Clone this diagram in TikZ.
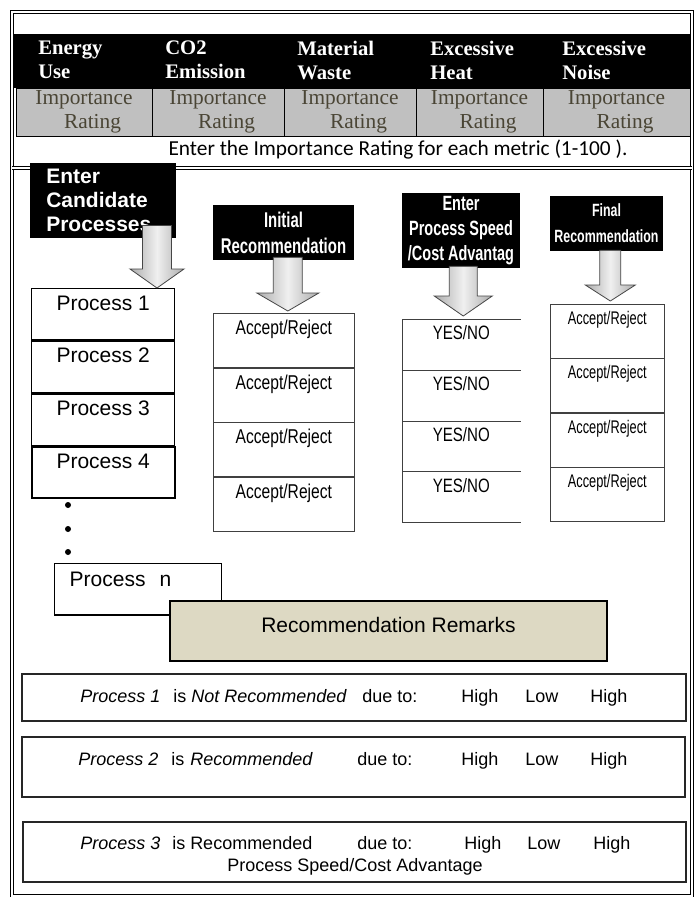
\documentclass[tikz,border=0pt]{standalone}
\usepackage{fontspec}
\setmainfont{Liberation Serif}
\newfontfamily\arialf{Liberation Sans}
\newfontfamily\arialn{Liberation Sans}[FakeStretch=0.78]
\newfontfamily\arialc{Liberation Sans}[FakeStretch=0.7]
\newfontfamily\calibf{Carlito}
\usepackage{tikz}
\usetikzlibrary{
  positioning,
  calc
}
\definecolor{ratinggray}{HTML}{C0C0C0}
\definecolor{ratingtext}{HTML}{4A4535}
\definecolor{remarktan}{HTML}{DDD9C3}

% block arrow: top point, tip point, shaft half width, head half width, head length (px)
\newcommand{\blockarrow}[5]{%
  \path[blockarr] let \p1=(#1), \p2=(#2) in
    (\x2-#3*0.75pt,\y1) -- (\x2+#3*0.75pt,\y1) -- (\x2+#3*0.75pt,\y2+#5*0.75pt)
    -- (\x2+#4*0.75pt,\y2+#5*0.75pt) -- (\x2,\y2) -- (\x2-#4*0.75pt,\y2+#5*0.75pt)
    -- (\x2-#3*0.75pt,\y2+#5*0.75pt) -- cycle;}

\begin{document}
\begin{tikzpicture}[
  x=0.75pt, y=-0.75pt,
  px/.style 2 args={minimum width=(#1)*0.75pt, minimum height=(#2)*0.75pt},
  frame/.style={double, double distance=1.6pt, line width=0.9pt},
  hdrtxt/.style={
    anchor=west, align=left, text=white, inner sep=0pt,
    font=\bfseries\fontsize{15.5}{18}\selectfont,
  },
  ratecell/.style={
    draw=black, line width=0.5pt, fill=ratinggray, text=ratingtext,
    align=center, inner sep=0pt, font=\fontsize{16}{18}\selectfont,
  },
  darkbox/.style={fill=black, text=white, inner sep=0pt, align=center},
  procbox/.style={
    draw, line width=1.1pt, inner sep=0pt, minimum width=107.25pt,
    text height=16.1pt, text depth=22.3pt, font=\arialf\fontsize{15.75}{18}\selectfont,
  },
  accbox/.style={
    draw=black!75, line width=0.5pt, inner sep=0pt, minimum width=105.75pt,
    text height=15.9pt, text depth=24.6pt, font=\arialn\fontsize{15}{18}\selectfont,
  },
  ynbox/.style={
    inner sep=0pt, minimum width=88.5pt,
    text height=15.1pt, text depth=22.7pt, font=\arialn\fontsize{14.5}{18}\selectfont,
  },
  ynline/.style={draw=black!75, line width=0.5pt},
  finbox/.style={
    draw=black!75, line width=0.5pt, inner sep=0pt, minimum width=85.5pt,
    text height=14.9pt, text depth=25.4pt, font=\arialc\fontsize{13.7}{15}\selectfont,
  },
  dotmark/.style={circle, fill=black, inner sep=0pt, minimum size=4.5pt},
  rembox/.style={draw=black!85, line width=1.6pt},
  remtxt/.style={anchor=base west, inner sep=0pt, font=\arialf\fontsize{13.5}{16}\selectfont},
  blockarr/.style={
    left color=gray!65, right color=gray!65, middle color=gray!12,
    draw=gray!55!black, line width=0.6pt,
  },
]
\fill[white] (0,0) rectangle (696,897);
\useasboundingbox (0,0) rectangle (696,897);

% metric table
\node[fill=black, px={676}{54}, inner sep=0pt] (hdr) at (352,61) {};
\foreach \x/\t [count=\i] in {38/{Energy\\Use}, 165/{CO2\\Emission}, 297/{Material\\Waste},
    430/{Excessive\\Heat}, 562/{Excessive\\Noise}}
  \node[hdrtxt] (h\i) at (\x,60) {\t};
\foreach \l/\r [count=\i] in {16/152, 152/284, 284/416, 416/543, 543/690}
  \node[ratecell, px={\r-\l}{48}] (r\i) at ({(\l+\r)/2},112) {Importance\\\hspace*{0.8em}Rating};
\node[font=\calibf\fontsize{16}{18}\selectfont, inner sep=0pt] (note) at (398,150)
  {Enter the Importance Rating for each metric (1-100 ).};

\draw[frame] (12,12) rectangle (692,896);
\draw[frame] (12,168) -- (692,168);

% candidate processes
\node[darkbox, anchor=north west, align=left, text width=85.5pt, inner xsep=12pt,
  minimum height=56.25pt, font=\arialf\bfseries\fontsize{15.75}{18}\selectfont]
  (cand) at (30,163) {Enter\\Candidate\\Processes};
\node[procbox, anchor=north west] (p1) at (31,288) {Process 1};
\node[procbox, below=0pt of p1] (p2) {Process 2};
\node[procbox, below=0pt of p2] (p3) {Process 3};
\node[procbox, below=0pt of p3, line width=1.7pt] (p4) {Process 4};
\foreach \y [count=\i] in {505,529,552}
  \node[dotmark] (dot\i) at (68,\y) {};
\node[procbox, anchor=north west, align=left, text width=102.75pt, inner xsep=11.25pt,
  text height=16.9pt, text depth=21.4pt] (pn) at (54,563) {Process\ \ n};

% initial recommendation
\node[darkbox, px={141}{55}, font=\arialc\bfseries\fontsize{16}{19.5}\selectfont]
  (init) at (283.5,232.5) {Initial\\Recommendation};
\node[accbox, anchor=north west, px={141}{54}] (a1) at (213,313) {Accept/Reject};
\node[accbox, below=0pt of a1, px={141}{54}] (a2) {Accept/Reject};
\node[accbox, below=0pt of a2, px={141}{54}] (a3) {Accept/Reject};
\node[accbox, below=0pt of a3, px={141}{54}] (a4) {Accept/Reject};

% speed / cost advantage
\node[darkbox, px={118}{75}, font=\arialc\bfseries\fontsize{15.5}{18.75}\selectfont]
  (speed) at (461,230.5) {Enter\\Process Speed\\/Cost Advantag};
\node[ynbox, anchor=north west] (y1) at (402,319) {YES/NO};
\node[ynbox, below=0pt of y1] (y2) {YES/NO};
\node[ynbox, below=0pt of y2] (y3) {YES/NO};
\node[ynbox, below=0pt of y3] (y4) {YES/NO};
\draw[ynline] (y1.north east) -- (y1.north west) -- (y4.south west) -- (y4.south east);
\foreach \i in {1,2,3}
  \draw[ynline] (y\i.south west) -- (y\i.south east);

% final recommendation
\node[darkbox, px={113}{55}, font=\arialc\bfseries\fontsize{13.3}{19.5}\selectfont]
  (fin) at (606.5,223.5) {Final\\Recommendation};
\node[finbox, anchor=north west, px={114}{53.75}] (f1) at (550,304) {Accept/Reject};
\node[finbox, below=0pt of f1, px={114}{53.75}] (f2) {Accept/Reject};
\node[finbox, below=0pt of f2, px={114}{53.75}] (f3) {Accept/Reject};
\node[finbox, below=0pt of f3, px={114}{53.75}] (f4) {Accept/Reject};

% arrows
\blockarrow{$(cand.south)+(0,-13)$}{$(p1.north west)+(126,0)$}{14.5}{27}{19}
\blockarrow{$(init.south)+(0,-3)$}{$(a1.north)+(4,-2)$}{14.5}{31}{18}
\blockarrow{$(speed.south)+(0,-2)$}{$(y1.north)+(2,-3)$}{14}{29}{20}
\blockarrow{$(fin.south)+(0,-1)$}{$(f1.north)+(3,-3)$}{10.5}{25}{16}

% remarks
\node[draw=black, line width=1.5pt, fill=remarktan, px={437}{60}, inner sep=0pt,
  text height=23.6pt, text depth=21.4pt, font=\arialf\fontsize{15.75}{18}\selectfont]
  (remarks) at (388.5,631) {Recommendation Remarks};
\node[rembox, px={664}{47}] (rm1) at (354,697.5) {};
\node[rembox, px={663}{60}] (rm2) at (353.5,767) {};
\node[rembox, px={663}{60}] (rm3) at (354.5,852) {};

\node[remtxt] (t1a) at (80,702.5) {\textit{Process 1}};
\node[remtxt] (t1b) at (173,702.5) {is};
\node[remtxt] (t1c) at (191,702.5) {\textit{Not Recommended}};
\node[remtxt] (t1d) at (362,702.5) {due to:};
\foreach \x/\w [count=\j] in {461/High, 525/Low, 590/High}
  \node[remtxt] (v1\j) at (\x,702.5) {\w};

\node[remtxt] (t2a) at (78,765.5) {\textit{Process 2}};
\node[remtxt] (t2b) at (171,765.5) {is};
\node[remtxt] (t2c) at (190,765.5) {\textit{Recommended}};
\node[remtxt] (t2d) at (357,765.5) {due to:};
\foreach \x/\w [count=\j] in {461/High, 525/Low, 590/High}
  \node[remtxt] (v2\j) at (\x,765.5) {\w};

\node[remtxt] (t3a) at (80,849.5) {\textit{Process 3}};
\node[remtxt] (t3b) at (172,849.5) {is Recommended};
\node[remtxt] (t3d) at (357,849.5) {due to:};
\foreach \x/\w [count=\j] in {464/High, 527/Low, 593/High}
  \node[remtxt] (v3\j) at (\x,849.5) {\w};
\node[remtxt, anchor=base] (t3e) at (355,871.5) {Process Speed/Cost Advantage};

\end{tikzpicture}
\end{document}
